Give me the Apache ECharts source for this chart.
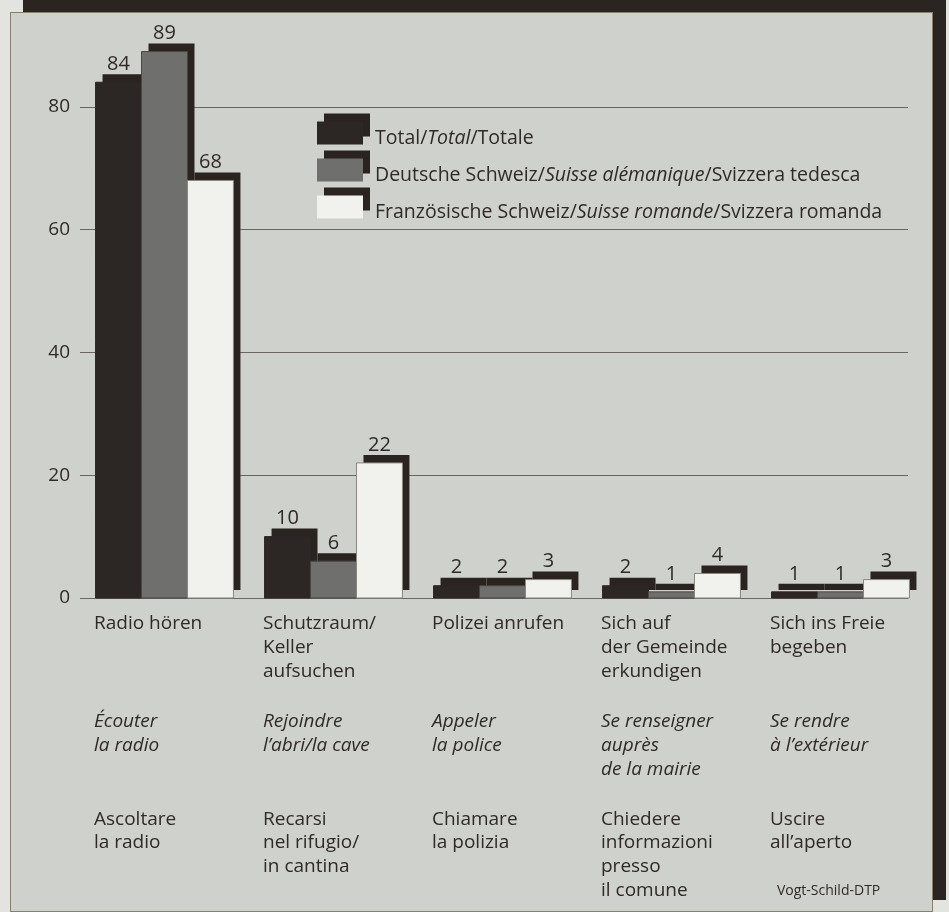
<!DOCTYPE html>
<html>
<head>
<meta charset="utf-8">
<script src="https://cdn.jsdelivr.net/npm/echarts@6/dist/echarts.min.js"></script>
<style>
  html, body { margin: 0; padding: 0; background: #e3e4e0; }
  #panel {
    position: absolute; left: 10px; top: 12px; width: 923px; height: 900px;
    background: #cfd1cd; border: 1px solid #86806f; box-sizing: border-box;
    box-shadow: 13px -12px 0 #2b2522;
  }
  #chart { position: absolute; left: 0; top: 0; width: 949px; height: 912px; }
</style>
</head>
<body>
<div id="panel"></div>
<div id="chart"></div>
<script>
  // categories (key) and the three-language labels under each group
  var categories = ['Radio hören', 'Schutzraum', 'Polizei anrufen', 'Sich auf der Gemeinde', 'Sich ins Freie'];
  var labelsDe = [['Radio hören'], ['Schutzraum/', 'Keller', 'aufsuchen'], ['Polizei anrufen'],
                  ['Sich auf', 'der Gemeinde', 'erkundigen'], ['Sich ins Freie', 'begeben']];
  var labelsFr = [['Écouter', 'la radio'], ['Rejoindre', 'l’abri/la cave'], ['Appeler', 'la police'],
                  ['Se renseigner', 'auprès', 'de la mairie'], ['Se rendre', 'à l’extérieur']];
  var labelsIt = [['Ascoltare', 'la radio'], ['Recarsi', 'nel rifugio/', 'in cantina'], ['Chiamare', 'la polizia'],
                  ['Chiedere', 'informazioni', 'presso', 'il comune'], ['Uscire', 'all’aperto']];

  var seriesNames = ['Total/Total/Totale',
                     'Deutsche Schweiz/Suisse alémanique/Svizzera tedesca',
                     'Französische Schweiz/Suisse romande/Svizzera romanda'];
  var totalValues = [84, 10, 2, 2, 1];
  var deValues = [89, 6, 2, 1, 1];
  var frValues = [68, 22, 3, 4, 3];

  var FONT = 'Open Sans';
  var TEXT = '#2f2a27';
  var SHADOW = '#2a2421';
  var barColors = ['#2c2624', '#6f6f6d', '#f1f2ed'];
  var barBorders = ['#2c2624', '#4a4744', '#8a877f'];

  function lines(arr, n, style) {
    var out = [];
    for (var i = 0; i < n; i++) out.push('{' + style + '|' + (arr[i] || ' ') + '}');
    return out;
  }

  // front bar + offset black block behind it, value on top
  function renderBar(params, api) {
    var i = params.seriesIndex;
    var value = api.value(1);
    var base = api.coord([api.value(0), 0]);
    var top = api.coord([api.value(0), value]);
    var w = api.size([1, 0])[0] * 0.272;
    var x = base[0] - 1.5 * w + i * w;
    var h = base[1] - top[1];
    return {
      type: 'group',
      children: [
        { type: 'rect', shape: { x: x + 7, y: top[1] - 8, width: w, height: h }, style: { fill: SHADOW } },
        { type: 'rect', shape: { x: x, y: top[1], width: w, height: h },
          style: { fill: barColors[i], stroke: barBorders[i], lineWidth: 1 } },
        { type: 'text', style: {
            text: String(value), x: x + w / 2, y: top[1] - 8, align: 'center', verticalAlign: 'bottom',
            fontFamily: FONT, fontSize: 20, fill: TEXT } }
      ]
    };
  }

  function barSeries(idx, values) {
    return {
      type: 'custom',
      name: seriesNames[idx],
      xAxisIndex: 1,
      yAxisIndex: 1,
      renderItem: renderBar,
      itemStyle: { color: barColors[idx] },
      encode: { x: 0, y: 1 },
      data: values.map(function (v, k) { return [k, v]; })
    };
  }

  var chart = echarts.init(document.getElementById('chart'));
  var lineStyle = { color: '#6b665f', width: 1 };

  chart.setOption({
    animation: false,
    backgroundColor: 'transparent',
    title: {
      text: 'Vogt-Schild-DTP', left: 772, top: 879,
      textStyle: { fontFamily: FONT, fontSize: 14, fontWeight: 'normal', color: TEXT }
    },
    legend: {
      orient: 'vertical', left: 312, top: 116.5,
      itemWidth: 46, itemHeight: 23, itemGap: 10.5, icon: 'rect',
      selectedMode: false,
      itemStyle: { shadowColor: SHADOW, shadowOffsetX: 7, shadowOffsetY: -8, shadowBlur: 0, borderWidth: 0 },
      formatter: function (name) {
        var p = name.split('/');
        return p[0] + '/{i|' + p[1] + '}/' + p[2];
      },
      textStyle: {
        fontFamily: FONT, fontSize: 19.5, color: TEXT, padding: [10, 0, 0, 7],
        rich: { i: { fontFamily: FONT, fontSize: 19.5, fontStyle: 'italic', color: TEXT } }
      }
    },
    grid: [
      { left: 80, right: 41, top: -16, bottom: 314, outerBoundsMode: 'none' },
      { left: 80, right: 24, top: -16, bottom: 314, outerBoundsMode: 'none' }
    ],
    xAxis: [
      { type: 'category', gridIndex: 0, data: categories, show: false },
      {
        type: 'category', gridIndex: 1, data: categories,
        axisLine: { show: false }, axisTick: { show: false },
        axisLabel: {
          interval: 0, margin: 14, color: TEXT,
          formatter: function (value, idx) {
            var out = lines(labelsDe[idx], 3, 'de')
              .concat(['{sp| }'])
              .concat(lines(labelsFr[idx], 3, 'fr'))
              .concat(['{sp| }'])
              .concat(lines(labelsIt[idx], labelsIt[idx].length, 'de'));
            return out.join('\n');
          },
          rich: {
            de: { width: 141, align: 'left', fontFamily: FONT, fontSize: 19, lineHeight: 23.8, color: TEXT },
            fr: { width: 141, align: 'left', fontFamily: FONT, fontSize: 19, lineHeight: 23.8, color: TEXT, fontStyle: 'italic' },
            sp: { width: 141, fontSize: 10, lineHeight: 26.2 }
          }
        }
      }
    ],
    yAxis: [
      {
        type: 'value', gridIndex: 0, min: 0, max: 100, interval: 20,
        axisLine: { show: false }, axisTick: { show: false },
        splitLine: { show: true, lineStyle: lineStyle },
        axisLabel: { margin: 10, fontFamily: FONT, fontSize: 19, color: TEXT }
      },
      { type: 'value', gridIndex: 1, min: 0, max: 100, show: false, splitLine: { show: false } }
    ],
    series: [
      barSeries(0, totalValues),
      barSeries(1, deValues),
      barSeries(2, frValues)
    ]
  });
</script>
</body>
</html>
